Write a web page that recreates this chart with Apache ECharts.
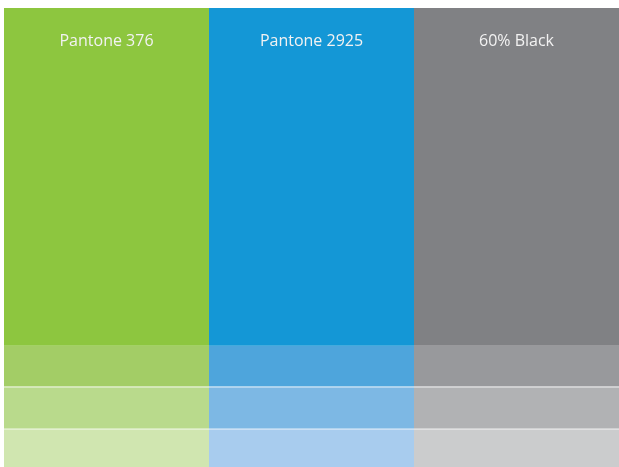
<!DOCTYPE html>
<html><head><meta charset="utf-8">
<script src="https://cdn.jsdelivr.net/npm/echarts@6/dist/echarts.min.js"></script>
<style>html,body{margin:0;padding:0;background:#fff}#c{width:619px;height:467px}</style>
</head><body><div id="c"></div>
<script>
const categories = ['Pantone 376', 'Pantone 2925', '60% Black'];
// stacked band heights, bottom to top (same for each swatch)
const tint20 = [38, 38, 38];
const tint40 = [42, 42, 42];
const tint60 = [41, 41, 41];
const solid = [337, 337, 337];
const colorsSolid = ['#8DC63F', '#1497D6', '#808184'];
const colors60 = ['#A3CD66', '#4EA5DC', '#98999C'];
const colors40 = ['#B9DA8C', '#7DB8E4', '#B1B2B4'];
const colors20 = ['#D0E6B0', '#A8CCEE', '#CBCCCD'];

function mk(vals, cols) {
  return vals.map((v, i) => ({ value: v, itemStyle: { color: cols[i] } }));
}
const base = { type: 'bar', stack: 's', barWidth: '100%', barCategoryGap: 0, silent: true, animation: false };
const chart = echarts.init(document.getElementById('c'));
chart.setOption({
  animation: false,
  grid: { left: 4, right: 0, top: 8, bottom: 0 },
  xAxis: { type: 'category', data: categories, show: false },
  yAxis: { type: 'value', min: 0, max: 458, show: false },
  series: [
    Object.assign({}, base, { name: '20%', data: mk(tint20, colors20),
      markLine: { silent: true, symbol: 'none', label: { show: false },
        lineStyle: { color: '#ffffff', opacity: 0.4, type: 'solid', width: 2 },
        data: [{ yAxis: 38.5 }, { yAxis: 80.5 }] } }),
    Object.assign({}, base, { name: '40%', data: mk(tint40, colors40) }),
    Object.assign({}, base, { name: '60%', data: mk(tint60, colors60) }),
    Object.assign({}, base, { name: 'solid', data: mk(solid, colorsSolid),
      label: { show: true, position: 'insideTop', distance: 25, formatter: p => categories[p.dataIndex],
        color: '#f2f2f2', fontFamily: 'Open Sans', fontSize: 16 } })
  ]
});
</script></body></html>
